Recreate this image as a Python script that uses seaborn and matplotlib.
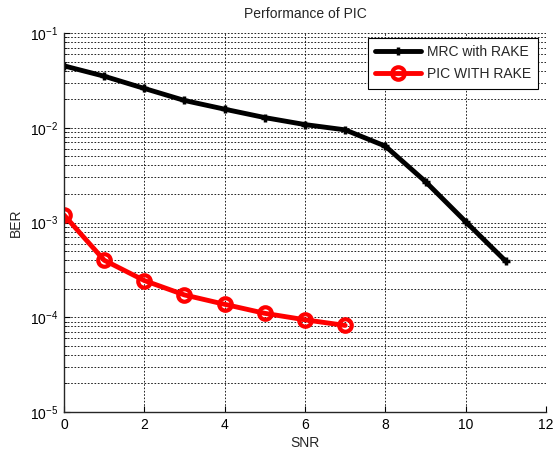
import numpy as np
import pandas as pd
import matplotlib
matplotlib.use("Agg")
import matplotlib.pyplot as plt
import seaborn as sns
from matplotlib.ticker import LogLocator, NullFormatter

# data
snr_mrc = [0, 1, 2, 3, 4, 5, 6, 7, 8, 9, 10, 11]
ber_mrc = [4.5e-2, 3.5e-2, 2.6e-2, 1.94e-2, 1.57e-2, 1.28e-2, 1.08e-2,
           9.5e-3, 6.4e-3, 2.7e-3, 1.02e-3, 3.9e-4]
snr_pic = [0, 1, 2, 3, 4, 5, 6, 7]
ber_pic = [1.2e-3, 4.0e-4, 2.44e-4, 1.72e-4, 1.37e-4, 1.10e-4, 9.4e-5, 8.2e-5]
labels = ["MRC with RAKE", "PIC WITH RAKE"]

df = pd.concat([
    pd.DataFrame({"SNR": snr_mrc, "BER": ber_mrc, "curve": labels[0]}),
    pd.DataFrame({"SNR": snr_pic, "BER": ber_pic, "curve": labels[1]}),
])

sns.set_style("ticks")
plt.rcParams["font.family"] = ["Liberation Sans", "DejaVu Sans"]
plt.rcParams["font.size"] = 10
plt.rcParams["mathtext.fontset"] = "custom"
plt.rcParams["mathtext.rm"] = "Liberation Sans"

fig = plt.figure(figsize=(5.55, 4.49), dpi=100)
ax = fig.add_axes([0.1153, 0.0824, 0.8685, 0.8441])

sns.lineplot(data=df[df.curve == labels[0]], x="SNR", y="BER", ax=ax,
             color="black", lw=3.5, marker="+", markersize=6, mew=2.5,
             mec="black", label=labels[0])
sns.lineplot(data=df[df.curve == labels[1]], x="SNR", y="BER", ax=ax,
             color="red", lw=3.5, marker="o", markersize=9, mew=3,
             mfc="none", mec="red", label=labels[1])

ax.set_yscale("log")
ax.set_xlim(0, 12)
ax.set_ylim(1e-5, 1e-1)
ax.set_xticks([0, 2, 4, 6, 8, 10, 12])
ax.yaxis.set_major_locator(LogLocator(base=10, numticks=10))
ax.yaxis.set_minor_locator(LogLocator(base=10, subs=np.arange(2, 10), numticks=20))
ax.yaxis.set_minor_formatter(NullFormatter())

ax.grid(which="major", axis="both", color="black", ls=(0, (2, 2)), lw=0.6)
ax.grid(which="minor", axis="y", color="black", ls=(0, (2, 2)), lw=0.6)

for s in ["top", "right"]:
    ax.spines[s].set_visible(False)
for s in ["left", "bottom"]:
    ax.spines[s].set_linewidth(1.0)
ax.tick_params(which="both", direction="in", labelsize=10, colors="black")
ax.tick_params(which="major", length=4, pad=4)
ax.tick_params(which="minor", length=2)

ax.set_xlabel("SNR", fontsize=10, labelpad=3)
ax.set_ylabel("BER", fontsize=10, labelpad=5)
ax.set_title("Performance of PIC", fontsize=10, pad=11)

leg = ax.legend(loc="upper right", bbox_to_anchor=(0.99, 0.995), fontsize=10,
                frameon=True, fancybox=False, handlelength=3.3,
                borderpad=0.55, labelspacing=0.55, handletextpad=0.4,
                borderaxespad=0.2)
leg.get_frame().set_edgecolor("black")
leg.get_frame().set_linewidth(0.8)
leg.get_frame().set_alpha(1)

fig.savefig("out.png", dpi=100)
